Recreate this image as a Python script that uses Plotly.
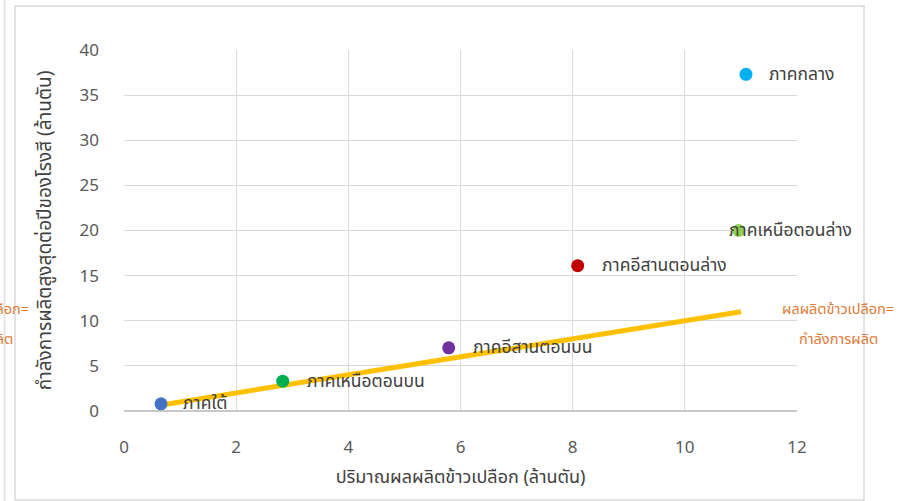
import plotly.graph_objects as go

# Regional rice output vs. mill capacity (million tonnes)
regions = ["ภาคใต้", "ภาคเหนือตอนบน", "ภาคอีสานตอนบน", "ภาคอีสานตอนล่าง", "ภาคเหนือตอนล่าง", "ภาคกลาง"]
paddy_output = [0.66, 2.83, 5.79, 8.09, 10.96, 11.09]
mill_capacity = [0.8, 3.3, 7.0, 16.1, 20.0, 37.3]
region_colors = ["#4472C4", "#00B050", "#7030A0", "#C00000", "#92D050", "#00B0F0"]
label_shift = [22, 24, 24, 24, -10, 23]

# Break-even reference: output equals capacity
parity_x = [0.7, 11.0]
parity_y = [0.7, 11.0]
parity_note = ["ผลผลิตข้าวเปลือก=", "กำลังการผลิต"]

x_ticks = [0, 2, 4, 6, 8, 10, 12]
y_ticks = [0, 5, 10, 15, 20, 25, 30, 35, 40]

W, H = 901, 501
L, R, T, B = 124, 797, 50, 411
FONT = "Noto Sans Thai, Noto Sans, sans-serif"


def px(xp):
    return (xp - L) / (R - L)


def py(yp):
    return (B - yp) / (B - T)


fig = go.Figure()

fig.add_trace(go.Scatter(
    x=parity_x, y=parity_y, mode="lines",
    line=dict(color="#FFC000", width=5),
    hoverinfo="skip", showlegend=False,
))

for name, xv, yv, col in zip(regions, paddy_output, mill_capacity, region_colors):
    fig.add_trace(go.Scatter(
        x=[xv], y=[yv], mode="markers", name=name,
        marker=dict(color=col, size=13, line=dict(width=0)),
        showlegend=False,
    ))

annotations = []
for name, xv, yv, sh in zip(regions, paddy_output, mill_capacity, label_shift):
    annotations.append(dict(
        x=xv, y=yv, xref="x", yref="y", text=name, showarrow=False,
        xanchor="left", yanchor="middle", xshift=sh - 2,
        font=dict(family=FONT, size=17.5, color="#404040"),
    ))

# Note beside the parity line (also the clipped copy from the neighbouring chart)
for cx in (838, -27):
    for line_text, ly in zip(parity_note, (310, 340)):
        annotations.append(dict(
            x=px(cx), y=py(ly), xref="paper", yref="paper", text=line_text,
            showarrow=False, xanchor="center", yanchor="middle",
            font=dict(family=FONT, size=14.5, color="#E07B39"),
        ))

shapes = [
    dict(type="rect", xref="paper", yref="paper",
         x0=px(15), x1=px(864), y0=py(500), y1=py(6),
         line=dict(color="#D9D9D9", width=1.5), fillcolor="rgba(0,0,0,0)", layer="below"),
    dict(type="line", xref="paper", yref="paper",
         x0=px(4.5), x1=px(4.5), y0=py(501), y1=py(0),
         line=dict(color="#E6E6E6", width=2)),
]

fig.update_layout(
    width=W, height=H,
    margin=dict(l=L, r=W - R, t=T, b=H - B),
    paper_bgcolor="white", plot_bgcolor="white",
    font=dict(family=FONT, color="#595959"),
    annotations=annotations, shapes=shapes,
    showlegend=False,
)

fig.update_xaxes(
    range=[0, 12], tickvals=x_ticks, ticktext=[str(v) for v in x_ticks],
    showgrid=True, gridcolor="#D9D9D9", gridwidth=1,
    zeroline=False, showline=False, ticks="",
    ticklabelstandoff=24,
    tickfont=dict(family=FONT, size=17, color="#595959"),
    title=dict(text="ปริมาณผลผลิตข้าวเปลือก (ล้านตัน)", standoff=10,
               font=dict(family=FONT, size=18, color="#404040")),
)
fig.update_yaxes(
    range=[0, 40], tickvals=y_ticks, ticktext=[str(v) for v in y_ticks],
    showgrid=True, gridcolor="#D9D9D9", gridwidth=1,
    zeroline=True, zerolinecolor="#C8C8C8", zerolinewidth=2,
    showline=False, ticks="",
    ticklabelstandoff=24,
    tickfont=dict(family=FONT, size=17, color="#595959"),
    title=dict(text="กำลังการผลิตสูงสุดต่อปีของโรงสี (ล้านตัน)", standoff=22,
               font=dict(family=FONT, size=19, color="#404040")),
)

fig.write_html("out.html")
